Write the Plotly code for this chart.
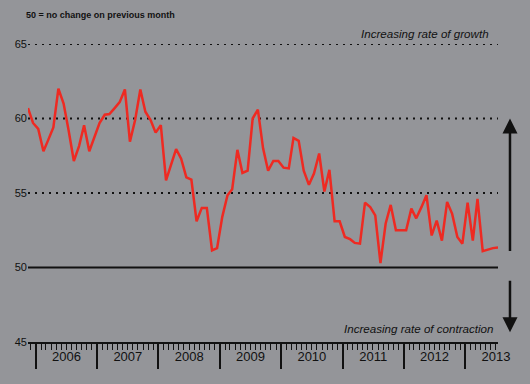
import pandas as pd
import plotly.graph_objects as go

# Monthly index values, Nov 2005 - Jul 2013
values = [60.7, 59.7, 59.3, 57.8, 58.55, 59.4, 62.0, 61.0, 59.2, 57.15,
          58.15, 59.55, 57.8, 58.7, 59.7, 60.25, 60.3, 60.7, 61.1, 61.95,
          58.45, 59.9, 61.95, 60.45, 59.9, 59.05, 59.55, 55.85, 56.8, 57.95,
          57.3, 56.05, 55.9, 53.1, 54.0, 54.0, 51.15, 51.3, 53.4, 54.85,
          55.25, 57.9, 56.35, 56.5, 60.0, 60.6, 58.0, 56.5, 57.15, 57.15,
          56.7, 56.65, 58.7, 58.5, 56.5, 55.55, 56.3, 57.65, 55.1, 56.55,
          53.1, 53.1, 52.05, 51.9, 51.65, 51.6, 54.35, 54.05, 53.5, 50.3,
          52.95, 54.2, 52.5, 52.5, 52.5, 53.95, 53.3, 54.05, 54.85, 52.15,
          53.15, 51.8, 54.4, 53.6, 52.05, 51.6, 54.35, 51.8, 54.6, 51.1,
          51.2, 51.3, 51.35]
start_month = "2005-11-01"
dates = pd.date_range(start_month, periods=len(values), freq="MS") + pd.Timedelta(days=14)

y_ticks = [45, 50, 55, 60, 65]
dotted_levels = [55, 60, 65]
no_change_level = 50

BG = "#949599"
RED = "#ee2a22"

fig = go.Figure()
fig.add_trace(go.Scatter(x=dates, y=values, mode="lines",
                         line=dict(color=RED, width=2.5), hoverinfo="skip"))

shapes = []
for lv in dotted_levels:
    shapes.append(dict(type="line", xref="x domain", yref="y", x0=0, x1=1, y0=lv, y1=lv,
                       line=dict(color="#111111", width=2, dash="2px,5px"), layer="below"))
shapes.append(dict(type="line", xref="x domain", yref="y", x0=0, x1=1,
                   y0=no_change_level, y1=no_change_level,
                   line=dict(color="#111111", width=2), layer="below"))

annotations = [
    dict(text="<b>50 = no change on previous month</b>", xref="paper", yref="paper",
         x=-0.0094, y=1.097, xanchor="left", yanchor="middle", showarrow=False,
         font=dict(family="Arial", size=9, color="#111111")),
    dict(text="<i>Increasing rate of growth</i>", xref="paper", yref="paper",
         x=0.985, y=1.0336, xanchor="right", yanchor="middle", showarrow=False,
         font=dict(family="Arial", size=11.6, color="#111111")),
    dict(text="<i>Increasing rate of contraction</i>", xref="paper", yref="y",
         x=0.995, y=45.9, xanchor="right", yanchor="middle", showarrow=False,
         font=dict(family="Arial", size=11.6, color="#111111")),
    dict(text="", xref="paper", yref="y", x=1.0255, y=60, ax=0, ay=134,
         showarrow=True, arrowhead=2, arrowsize=1.2, arrowwidth=2.5, arrowcolor="#111111"),
    dict(text="", xref="paper", yref="y", x=1.0255, y=45.65, ax=0, ay=-53,
         showarrow=True, arrowhead=2, arrowsize=1.2, arrowwidth=2.5, arrowcolor="#111111"),
]

fig.update_layout(
    width=530, height=384,
    margin=dict(l=28, r=32, t=44, b=42),
    paper_bgcolor=BG, plot_bgcolor=BG,
    showlegend=False,
    shapes=shapes, annotations=annotations,
    xaxis=dict(
        type="date", range=["2005-11-15", "2013-07-15"], automargin=False,
        showgrid=False, zeroline=False,
        showline=True, linecolor="#111111", linewidth=2,
        tick0="2006-01-01", dtick="M12", ticks="outside", ticklen=25,
        tickwidth=1.5, tickcolor="#111111", tickformat="%Y",
        ticklabelmode="period", ticklabelstandoff=-24,
        tickfont=dict(family="Arial", size=13, color="#111111"),
        minor=dict(dtick="M1", ticks="outside", ticklen=6, tickwidth=1.2,
                   tickcolor="#111111", showgrid=False),
    ),
    yaxis=dict(
        range=[45, 65], tickvals=y_ticks, showgrid=False, zeroline=False,
        showline=False, ticks="", automargin=False,
        tickfont=dict(family="Arial", size=11, color="#111111"),
    ),
)

fig.write_html("out.html", config={"displayModeBar": False},
               post_script="document.body.style.margin='0';document.body.style.background='%s';" % BG)
